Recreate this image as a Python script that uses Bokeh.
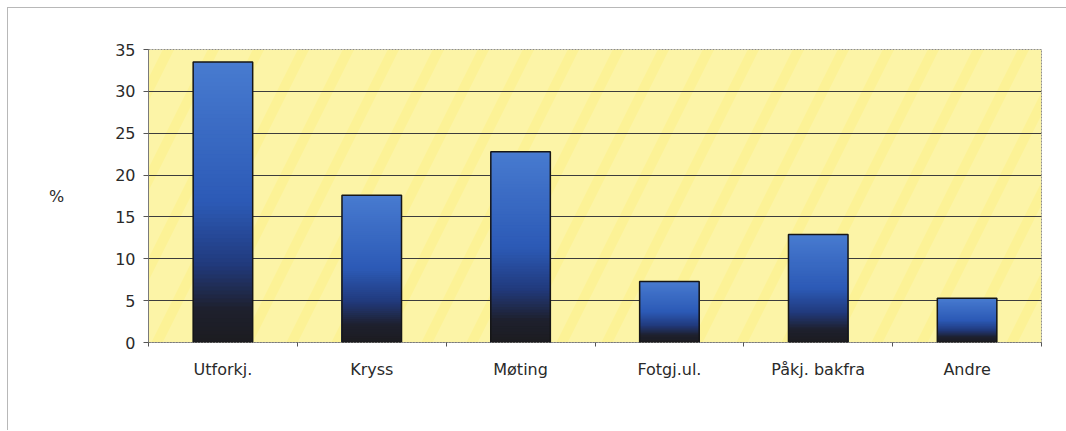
from bokeh.plotting import figure
from bokeh.models import Range1d, FixedTicker, BoxAnnotation
from bokeh.embed import file_html
from bokeh.resources import INLINE

# ---- data ----
categories = ["Utforkj.", "Kryss", "Møting", "Fotgj.ul.", "Påkj. bakfra", "Andre"]
values = [33.5, 17.6, 22.8, 7.3, 12.9, 5.3]
y_ticks = [0, 5, 10, 15, 20, 25, 30, 35]
y_label = "%"

# ---- gradient helper (style only) ----
stops = [(0.0, (28, 28, 32)), (0.12, (30, 32, 46)), (0.28, (33, 58, 125)),
         (0.5, (44, 90, 182)), (1.0, (72, 123, 208))]

def grad(f):
    for (f0, c0), (f1, c1) in zip(stops[:-1], stops[1:]):
        if f0 <= f <= f1:
            t = (f - f0) / (f1 - f0)
            return "#%02x%02x%02x" % tuple(int(round(a + (b - a) * t)) for a, b in zip(c0, c1))
    return "#%02x%02x%02x" % stops[-1][1]

n = len(categories)
xs = [i + 0.5 for i in range(n)]

p = figure(width=1059, height=423, x_range=Range1d(0, n), y_range=Range1d(0, 35),
           output_backend="svg", toolbar_location=None,
           min_border_left=140, min_border_right=26, min_border_top=41, min_border_bottom=89,
           background_fill_color="#fcf296", border_fill_color="white")
p.margin = (7, 0, 0, 7)
p.styles = {"border-top": "1px solid #b8b8b8", "border-left": "1px solid #b8b8b8"}

stripes = BoxAnnotation(fill_alpha=0, line_alpha=0, hatch_pattern="/", hatch_scale=90,
                        hatch_weight=30, hatch_color="white", hatch_alpha=0.16, level="image")
p.add_layout(stripes)

# gradient: nested rects from 0 to a fraction of each bar, drawn tallest first
N = 70
sx, st, sc = [], [], []
for k in range(N - 1, -1, -1):
    for x, v in zip(xs, values):
        sx.append(x)
        st.append(v * (k + 1) / N)
        sc.append(grad((k + 0.5) / N))
p.vbar(x=sx, bottom=0, top=st, width=0.4, fill_color=sc, line_color=None)
p.vbar(x=xs, bottom=0, top=values, width=0.4, fill_alpha=0, line_color="#161616", line_width=1.5)

p.outline_line_color = "#8a8a8a"
p.outline_line_dash = "2 1"

p.xgrid.visible = False
p.ygrid.ticker = FixedTicker(ticks=y_ticks[1:-1])
p.ygrid.grid_line_color = "#3c3c3c"
p.ygrid.grid_line_width = 1

p.yaxis.ticker = FixedTicker(ticks=y_ticks)
p.yaxis.axis_label = y_label
p.yaxis.axis_label_orientation = "horizontal"
p.yaxis.axis_label_standoff = 48
p.yaxis.axis_label_text_font = "DejaVu Sans"
p.yaxis.axis_label_text_font_style = "normal"
p.yaxis.axis_label_text_font_size = "16px"
p.yaxis.axis_label_text_color = "#2a2a2a"
p.yaxis.major_tick_out = 5
p.yaxis.major_tick_in = 0
p.yaxis.minor_tick_line_color = None
p.yaxis.major_label_standoff = 8
p.yaxis.axis_line_color = "#7a7a7a"
p.yaxis.major_tick_line_color = "#555555"

p.xaxis.ticker = FixedTicker(ticks=xs, minor_ticks=list(range(n + 1)))
p.xaxis.major_label_overrides = {x: c for x, c in zip(xs, categories)}
p.xaxis.major_tick_line_color = None
p.xaxis.minor_tick_out = 4
p.xaxis.minor_tick_in = 0
p.xaxis.minor_tick_line_color = "#555555"
p.xaxis.major_label_standoff = 11
p.xaxis.axis_line_color = "#7a7a7a"
p.xaxis.axis_line_dash = "2 1"

for ax in (p.xaxis, p.yaxis):
    ax.major_label_text_font = "DejaVu Sans"
    ax.major_label_text_font_size = "16px"
    ax.major_label_text_color = "#2a2a2a"

open("out.html", "w").write(file_html(p, INLINE))
